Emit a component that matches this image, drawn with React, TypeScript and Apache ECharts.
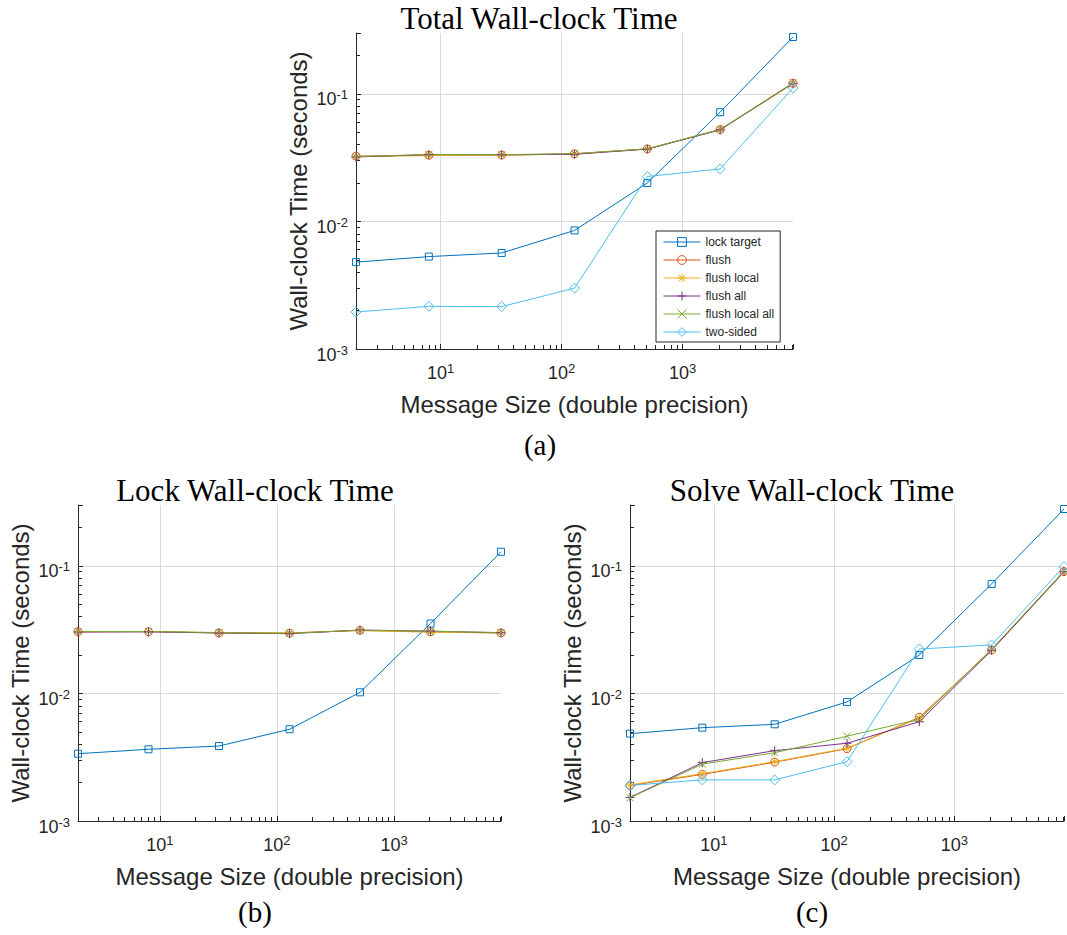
import React, { useEffect, useRef } from "react";
import * as echarts from "echarts";

// Message sizes (number of doubles) shared by all three panels
const messageSizes = [2, 8, 32, 128, 512, 2048, 8192];

const seriesNames = ["lock target", "flush", "flush local", "flush all", "flush local all", "two-sided"];

// (a) Total wall-clock time, seconds
const totalLockTarget = [0.0048, 0.0053, 0.00566, 0.0085, 0.02, 0.0718, 0.279];
const totalFlush = [0.0325, 0.033, 0.0331, 0.0339, 0.037, 0.0525, 0.121];
const totalFlushLocal = [0.0323, 0.0328, 0.033, 0.0338, 0.037, 0.0524, 0.12];
const totalFlushAll = [0.032, 0.0334, 0.0333, 0.0336, 0.0369, 0.0522, 0.121];
const totalFlushLocalAll = [0.0322, 0.0335, 0.0334, 0.034, 0.0371, 0.0526, 0.122];
const totalTwoSided = [0.00195, 0.00216, 0.00215, 0.003, 0.0225, 0.0258, 0.111];

// (b) Lock wall-clock time, seconds
const lockLockTarget = [0.00337, 0.00365, 0.00387, 0.00524, 0.0102, 0.0353, 0.129];
const lockFlush = [0.0305, 0.0305, 0.0298, 0.0297, 0.0312, 0.0304, 0.0298];
const lockFlushLocal = [0.0304, 0.0306, 0.0299, 0.0299, 0.0311, 0.0302, 0.0298];
const lockFlushAll = [0.0303, 0.0304, 0.0298, 0.0294, 0.0314, 0.0308, 0.0299];
const lockFlushLocalAll = [0.0306, 0.0306, 0.03, 0.0296, 0.0313, 0.0307, 0.03];

// (c) Solve wall-clock time, seconds
const solveLockTarget = [0.00484, 0.00539, 0.00573, 0.00858, 0.02, 0.0722, 0.279];
const solveFlush = [0.0019, 0.00232, 0.00289, 0.00369, 0.0065, 0.0219, 0.0902];
const solveFlushLocal = [0.00192, 0.00235, 0.00292, 0.00372, 0.0064, 0.0221, 0.0905];
const solveFlushAll = [0.00153, 0.00287, 0.00356, 0.00407, 0.006, 0.0218, 0.0898];
const solveFlushLocalAll = [0.00152, 0.00279, 0.00343, 0.00462, 0.00627, 0.0222, 0.0912];
const solveTwoSided = [0.0019, 0.0021, 0.0021, 0.00292, 0.0223, 0.024, 0.0988];

const panelTitles = ["Total Wall-clock Time", "Lock Wall-clock Time", "Solve Wall-clock Time"];
const panelLetters = ["(a)", "(b)", "(c)"];
const xAxisTitle = "Message Size (double precision)";
const yAxisTitle = "Wall-clock Time (seconds)";

const X_MIN = 2;
const X_MAX = 8192;
const Y_MIN = 0.001;
const Y_MAX = 0.3;

const SANS = '"Liberation Sans", Arial, Helvetica, sans-serif';
const SERIF = '"Liberation Serif", "Times New Roman", serif';
const INK = "#262626";
const GRID_LINE = "#dadada";

// MATLAB default line colours, one per method
const colors = ["#0072BD", "#D95319", "#EDB120", "#7E2F8E", "#77AC30", "#4DBEEE"];
const symbols = [
  "rect",
  "circle",
  "path://M5,0L5,10M0,5L10,5M1.5,1.5L8.5,8.5M8.5,1.5L1.5,8.5",
  "path://M5,0L5,10M0,5L10,5",
  "path://M0,0L10,10M10,0L0,10",
  "diamond",
];
const symbolSizes = [7, 8, 8, 9, 7, 10];

// Plot areas of the three panels
const grids = [
  { left: 356, top: 33, width: 437, height: 316 },
  { left: 78, top: 505, width: 423, height: 316 },
  { left: 630, top: 505, width: 434, height: 316 },
];

function powerLabel(v: number): string {
  const e = Math.round(Math.log10(v));
  if (Math.abs(v / Math.pow(10, e) - 1) > 1e-6) return "";
  return `{b|10}{s|${e}}`;
}

const richPow = {
  b: { fontFamily: SANS, fontSize: 18, color: INK, lineHeight: 20, verticalAlign: "bottom" },
  s: { fontFamily: SANS, fontSize: 13, color: INK, lineHeight: 13, verticalAlign: "top", padding: [0, 0, 12, 0] },
};

function axisCommon(gridIndex: number) {
  return {
    type: "log",
    logBase: 10,
    gridIndex,
    axisLine: { show: true, onZero: false, lineStyle: { color: INK, width: 1 } },
    axisTick: { show: true, inside: true, length: 5, lineStyle: { color: INK, width: 1 } },
    minorTick: { show: true, splitNumber: 9, length: 4, lineStyle: { color: INK, width: 1 } },
    splitLine: { show: true, showMinLine: false, showMaxLine: false, lineStyle: { color: GRID_LINE, width: 1 } },
    minorSplitLine: { show: false },
  };
}

function makeSeries(gridIndex: number, values: number[], k: number) {
  return {
    type: "line",
    name: seriesNames[k],
    xAxisIndex: gridIndex,
    yAxisIndex: gridIndex,
    data: messageSizes.map((x, i) => [x, values[i]]),
    symbol: symbols[k],
    symbolSize: symbolSizes[k],
    showSymbol: true,
    clip: false,
    lineStyle: { color: colors[k], width: 1 },
    itemStyle: { color: "rgba(255,255,255,0)", borderColor: colors[k], borderWidth: 1 },
    emphasis: { disabled: true },
  };
}

function textEl(text: string, x: number, y: number, font: string, fill: string, rotation = 0) {
  return {
    type: "text",
    x,
    y,
    rotation,
    silent: true,
    style: { text, font, fill, align: "center", verticalAlign: "middle" },
  };
}

export default function App() {
  const ref = useRef<HTMLDivElement>(null);

  useEffect(() => {
    if (!ref.current) return;
    const chart = echarts.init(ref.current, null, { renderer: "svg" });

    const panels = [
      [totalLockTarget, totalFlush, totalFlushLocal, totalFlushAll, totalFlushLocalAll, totalTwoSided],
      [lockLockTarget, lockFlush, lockFlushLocal, lockFlushAll, lockFlushLocalAll, null],
      [solveLockTarget, solveFlush, solveFlushLocal, solveFlushAll, solveFlushLocalAll, solveTwoSided],
    ];

    const series: any[] = [];
    panels.forEach((set, g) => {
      set.forEach((vals, k) => {
        if (vals) series.push(makeSeries(g, vals, k));
      });
    });

    const graphics: any[] = [];
    grids.forEach((gr, g) => {
      const cx = gr.left + gr.width / 2;
      const cy = gr.top + gr.height / 2;
      const titleX = [539, 255, 812][g];
      graphics.push(textEl(panelTitles[g], titleX, gr.top - 15, `31px ${SERIF}`, "#000"));
      graphics.push(textEl(xAxisTitle, cx, gr.top + gr.height + 55, `24px ${SANS}`, INK));
      graphics.push(textEl(yAxisTitle, gr.left - 58, cy, `24px ${SANS}`, INK, Math.PI / 2));
      const letterPos = [[540, 445], [255, 912], [812, 912]][g];
      graphics.push(textEl(panelLetters[g], letterPos[0], letterPos[1], `29px ${SERIF}`, "#000"));
    });

    chart.setOption({
      animation: false,
      backgroundColor: "#ffffff",
      grid: grids.map((g) => ({ ...g, containLabel: false, outerBoundsMode: "none" })),
      xAxis: grids.map((_, g) => ({
        ...axisCommon(g),
        min: X_MIN,
        max: X_MAX,
        axisLabel: {
          show: true,
          margin: 13,
          formatter: powerLabel,
          rich: richPow,
          showMinLabel: true,
          showMaxLabel: true,
          hideOverlap: false,
        },
      })),
      yAxis: grids.map((_, g) => ({
        ...axisCommon(g),
        min: Y_MIN,
        max: Y_MAX,
        axisLabel: {
          show: true,
          margin: 8,
          padding: [9, 0, 0, 0],
          formatter: powerLabel,
          rich: richPow,
          showMinLabel: true,
          showMaxLabel: true,
          hideOverlap: false,
        },
      })),
      legend: {
        show: true,
        orient: "vertical",
        left: 656,
        top: 231,
        data: seriesNames,
        backgroundColor: "#ffffff",
        borderColor: INK,
        borderWidth: 1,
        borderRadius: 0,
        padding: [5, 6, 4, 7],
        itemWidth: 37,
        itemHeight: 11,
        itemGap: 6,
        selectedMode: false,
        lineStyle: { width: 1 },
        itemStyle: { borderWidth: 1 },
        textStyle: { fontFamily: SANS, fontSize: 12, color: INK, lineHeight: 11 },
      },
      series,
      graphic: graphics,
    });

    return () => chart.dispose();
  }, []);

  return (
    <div
      ref={ref}
      style={{ position: "absolute", left: 0, top: 0, width: 1067, height: 935, background: "#fff" }}
    />
  );
}
